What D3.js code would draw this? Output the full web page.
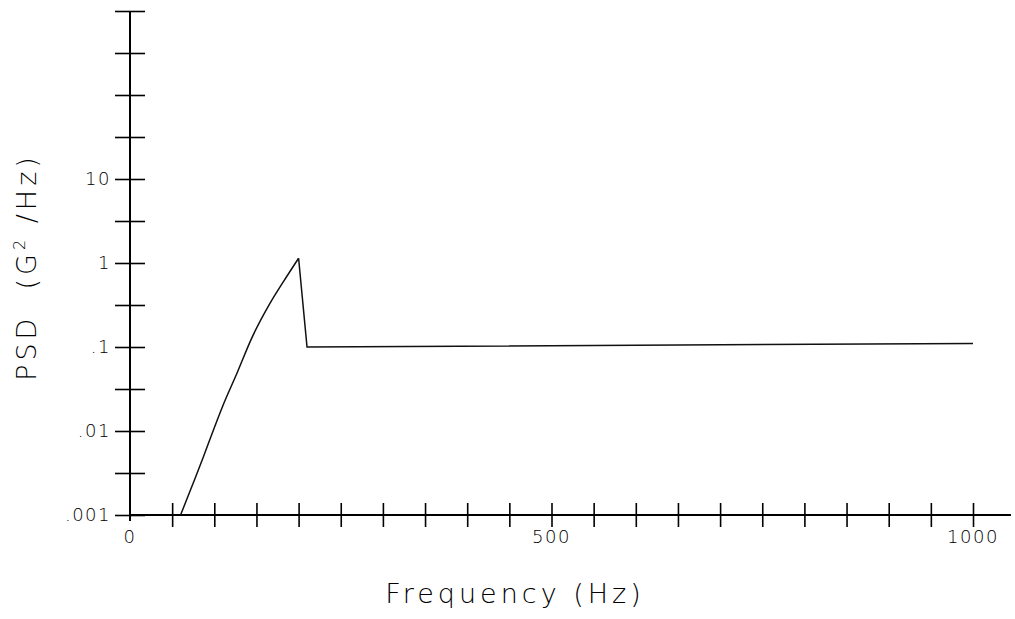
<!DOCTYPE html>
<html>
<head>
<meta charset="utf-8">
<script src="https://cdn.jsdelivr.net/npm/d3@7"></script>
<style>
  body { margin: 0; background: #fff; }
  text { font-family: "DejaVu Sans", sans-serif; font-weight: 200; fill: #000; }
</style>
</head>
<body>
<div id="chart"></div>
<script>
// PSD profile (Hz, G^2/Hz)
var freq = [60, 75, 87, 99, 111, 127, 144, 166, 182, 200, 210, 1000];
var psd  = [0.001, 0.0024, 0.0049, 0.0103, 0.021, 0.049, 0.125, 0.33, 0.6, 1.14, 0.1, 0.11];
var peakIndex = 9;

var xTicks = d3.range(0, 1001, 50);
var xLabels = [0, 500, 1000];
var yTicks = d3.range(0, 13).map(function (k) { return Math.pow(10, -3 + k / 2); });
var yLabels = [0.001, 0.01, 0.1, 1, 10];
var yLabelText = ['.001', '.01', '.1', '1', '10'];

var W = 1015, H = 619;
var svg = d3.select('#chart').append('svg')
    .attr('width', W)
    .attr('height', H);

var x = d3.scaleLinear().domain([0, 1000]).range([130, 973]);
var y = d3.scaleLog().domain([0.001, 1000]).range([515, 11]);

// y axis
var ya = svg.append('g')
    .attr('transform', 'translate(' + x(0) + ',0)')
    .call(d3.axisLeft(y).tickValues(yTicks).tickSize(15).tickFormat(''));
ya.select('.domain').attr('d', 'M0,' + y(1000) + 'V' + (y(0.001) + 6)).attr('stroke-width', 2);
ya.selectAll('.tick line').attr('x1', 15).attr('stroke-width', 1.6);

// x axis
var xa = svg.append('g')
    .attr('transform', 'translate(0,' + y(0.001) + ')')
    .call(d3.axisBottom(x).tickValues(xTicks.filter(function (d) { return d > 0; })).tickSize(12).tickFormat(''));
xa.select('.domain').attr('d', 'M' + x(0) + ',0H' + x(1045)).attr('stroke-width', 2);
xa.selectAll('.tick line').attr('y1', -12).attr('stroke-width', 1.6);

// tick labels
svg.selectAll('.ylab')
    .data(yLabels)
    .enter().append('text')
    .attr('class', 'ylab')
    .attr('x', 111)
    .attr('y', function (d) { return y(d) + 6; })
    .attr('text-anchor', 'end')
    .attr('font-size', 18)
    .attr('letter-spacing', 1.5)
    .text(function (d, i) { return yLabelText[i]; });

svg.selectAll('.xlab')
    .data(xLabels)
    .enter().append('text')
    .attr('class', 'xlab')
    .attr('x', function (d) { return x(d); })
    .attr('y', 543)
    .attr('text-anchor', 'middle')
    .attr('font-size', 18)
    .attr('letter-spacing', 1.5)
    .text(function (d) { return d; });

// axis titles
svg.append('text')
    .attr('x', 515)
    .attr('y', 603)
    .attr('text-anchor', 'middle')
    .attr('font-size', 27)
    .attr('letter-spacing', 4)
    .text('Frequency (Hz)');

var yt = svg.append('text')
    .attr('transform', 'translate(36,267) rotate(-90)')
    .attr('text-anchor', 'middle')
    .attr('font-size', 27)
    .attr('letter-spacing', 4)
    .attr('xml:space', 'preserve');
yt.append('tspan').text('PSD  (G');
yt.append('tspan').attr('font-size', 16).attr('dy', -11).text('2');
yt.append('tspan').attr('dy', 11).text(' /Hz)');

// PSD curve: smooth rise up to the peak, straight segments after it
var pts = d3.zip(freq, psd);
var rise = d3.line()
    .curve(d3.curveMonotoneX)
    .x(function (d) { return x(d[0]); })
    .y(function (d) { return y(d[1]); });
var flat = d3.line()
    .x(function (d) { return x(d[0]); })
    .y(function (d) { return y(d[1]); });

svg.append('path')
    .datum(pts.slice(0, peakIndex + 1))
    .attr('d', rise)
    .attr('fill', 'none')
    .attr('stroke', '#111')
    .attr('stroke-width', 1.5);

svg.append('path')
    .datum(pts.slice(peakIndex))
    .attr('d', flat)
    .attr('fill', 'none')
    .attr('stroke', '#111')
    .attr('stroke-width', 1.5);
</script>
</body>
</html>
